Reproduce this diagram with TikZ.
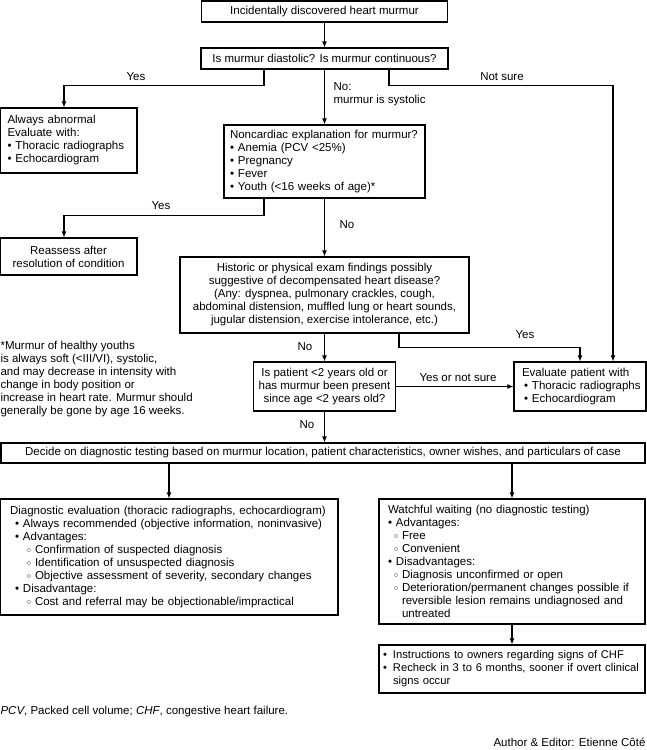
\documentclass[tikz,border=0pt]{standalone}
\usepackage{fontspec}
\setmainfont{Liberation Sans}
\usetikzlibrary{arrows.meta}
\newcommand{\bul}{\makebox[8pt][l]{\textbullet}}
\newcommand{\sbul}{\makebox[8pt][l]{\raisebox{0.8pt}{$\scriptstyle\circ$}}}

\begin{document}
\begin{tikzpicture}[x=1pt,y=-1pt,line width=1.1pt,
  box/.style={draw,inner sep=0pt,font=\fontsize{11.5}{13}\selectfont},
  lbl/.style={inner sep=0pt,font=\fontsize{11.5}{13}\selectfont},
  arr/.style={-{Latex[length=6pt,width=5pt]}}]
\useasboundingbox (0,0) rectangle (647,750);

\node[box,minimum width=246pt,minimum height=21pt] (start) at (324.5,11.5) {Incidentally discovered heart murmur};
\node[box,minimum width=247pt,minimum height=21pt] (diast) at (324.5,58.5) {Is murmur diastolic? Is murmur continuous?};
\node[box,minimum height=65pt,inner xsep=7.5pt,text width=122pt,align=left] (abn) at (68.5,140.5)
  {Always abnormal\\Evaluate with:\\\bul Thoracic radiographs\\\bul Echocardiogram};
\node[box,minimum height=73pt,inner xsep=6pt,text width=189pt,align=left] (noncard) at (324.5,161.5)
  {Noncardiac explanation for murmur?\\\bul Anemia (PCV <25\%)\\\bul Pregnancy\\\bul Fever\\\bul Youth (<16 weeks of age)*};
\node[box,minimum width=137pt,minimum height=37pt,align=center] (reass) at (68.5,256.5)
  {Reassess after\\resolution of condition};
\node[box,minimum width=289pt,minimum height=76pt,align=center] (hist) at (324.5,295)
  {Historic or physical exam findings possibly\\suggestive of decompensated heart disease?\\(Any: dyspnea, pulmonary crackles, cough,\\abdominal distension, muffled lung or heart sounds,\\jugular distension, exercise intolerance, etc.)};
\node[box,minimum width=142pt,minimum height=49pt,align=center] (age) at (324.5,386.5)
  {Is patient <2 years old or\\has murmur been present\\since age <2 years old?};
\node[box,minimum height=49pt,inner xsep=5pt,text width=122pt,align=left] (evalp) at (580,386.5)
  {\hspace*{3pt}Evaluate patient with\\\hspace*{5pt}\bul Thoracic radiographs\\\hspace*{5pt}\bul Echocardiogram};
\node[box,minimum width=644pt,minimum height=20pt] (decide) at (323,453)
  {Decide on diagnostic testing based on murmur location, patient characteristics, owner wishes, and particulars of case};
\node[box,minimum height=116pt,inner xsep=10pt,text width=318pt,align=left] (diag) at (169,557)
  {Diagnostic evaluation (thoracic radiographs, echocardiogram)\\
   \hspace*{5pt}\bul Always recommended (objective information, noninvasive)\\
   \hspace*{5pt}\bul Advantages:\\
   \hspace*{17pt}\sbul Confirmation of suspected diagnosis\\
   \hspace*{17pt}\sbul Identification of unsuspected diagnosis\\
   \hspace*{17pt}\sbul Objective assessment of severity, secondary changes\\
   \hspace*{5pt}\bul Disadvantage:\\
   \hspace*{17pt}\sbul Cost and referral may be objectionable/impractical};
\node[box,minimum height=125pt,inner xsep=9pt,text width=248pt,align=left] (watch) at (512,561.5)
  {Watchful waiting (no diagnostic testing)\\
   \bul Advantages:\\
   \hspace*{6pt}\sbul Free\\
   \hspace*{6pt}\sbul Convenient\\
   \bul Disadvantages:\\
   \hspace*{6pt}\sbul Diagnosis unconfirmed or open\\
   \hspace*{6pt}\sbul Deterioration/permanent changes possible if\\
   \hspace*{14pt}reversible lesion remains undiagnosed and\\
   \hspace*{14pt}untreated};
\node[box,minimum height=48pt,inner xsep=2pt,text width=262pt,align=left,font=\fontsize{11.2}{13}\selectfont] (recheck) at (512,669)
  {\mbox{\hspace*{2pt}\makebox[10pt][l]{\textbullet}Instructions to owners regarding signs of CHF}\\
   \mbox{\hspace*{2pt}\makebox[10pt][l]{\textbullet}Recheck in 3 to 6 months, sooner if overt clinical}\\
   \hspace*{12pt}signs occur};

% branch labels
\node[lbl] (lyes1) at (136,77) {Yes};
\node[lbl,anchor=west,align=left] (lno1) at (333,94) {No:\\murmur is systolic};
\node[lbl] (lns) at (502,77) {Not sure};
\node[lbl] (lyes2) at (161,206) {Yes};
\node[lbl] (lno2) at (347,225) {No};
\node[lbl] (lyes3) at (525,335) {Yes};
\node[lbl] (lno3) at (305,347) {No};
\node[lbl] (lyns) at (458,378) {Yes or not sure};
\node[lbl] (lno4) at (307,425) {No};

% notes
\node[lbl,anchor=north west,align=left] (youth) at (0,341)
  {*Murmur of healthy youths\\is always soft (<III/VI), systolic,\\and may decrease in intensity with\\change in body position or\\increase in heart rate. Murmur should\\generally be gone by age 16 weeks.};
\node[lbl,anchor=west] (abbr) at (0,712) {\textit{PCV}, Packed cell volume; \textit{CHF}, congestive heart failure.};
\node[lbl,anchor=east] (author) at (646,742) {Author \& Editor: Etienne Côté};

% connectors
\draw[arr] (start) -- (diast);
\draw[arr] ([xshift=-60.5pt]diast.south) -- ++(0,16) -| ([xshift=-4.5pt]abn.north);
\draw[arr] (diast) -- (noncard);
\draw[arr] ([xshift=64.5pt]diast.south) -- ++(0,16) -| ([xshift=33pt]evalp.north);
\draw[arr] ([xshift=-60.5pt]noncard.south) -- ++(0,17) -| ([xshift=-4.5pt]reass.north);
\draw[arr] (noncard) -- (hist);
\draw[arr] ([xshift=74.5pt]hist.south) -- ++(0,14) -| (evalp.north);
\draw[arr] (hist) -- (age);
\draw[arr] (age) -- (evalp);
\draw[arr] (age.south) -- (age.south |- decide.north);
\draw[arr] (diag.north |- decide.south) -- (diag.north);
\draw[arr] (watch.north |- decide.south) -- (watch.north);
\draw[arr] (watch) -- (recheck);
\end{tikzpicture}
\end{document}
